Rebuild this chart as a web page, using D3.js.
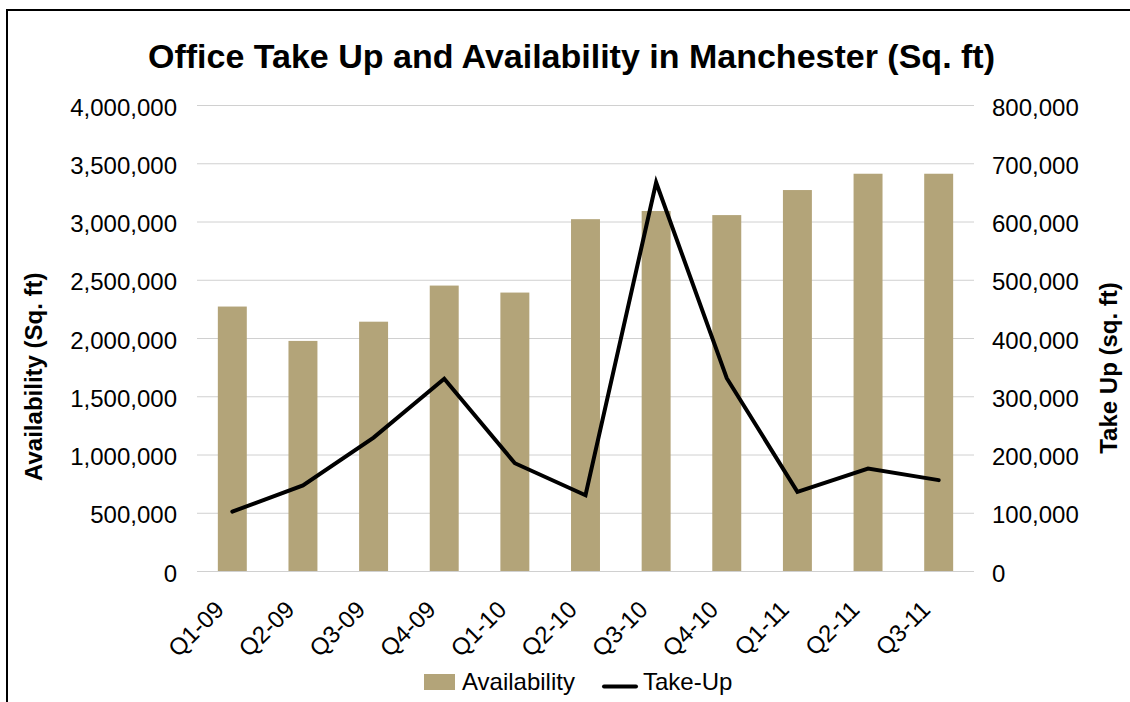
<!DOCTYPE html>
<html>
<head>
<meta charset="utf-8">
<script src="https://cdn.jsdelivr.net/npm/d3@7"></script>
<style>
  html, body { margin: 0; padding: 0; background: #fff; }
  svg { display: block; font-family: "Liberation Sans", Arial, sans-serif; }
</style>
</head>
<body>
<svg id="chart" width="1130" height="702"></svg>
<script>
const categories = ["Q1-09","Q2-09","Q3-09","Q4-09","Q1-10","Q2-10","Q3-10","Q4-10","Q1-11","Q2-11","Q3-11"];
const availability = [2270000, 1975000, 2140000, 2450000, 2390000, 3020000, 3090000, 3055000, 3270000, 3410000, 3410000];
const takeUp = [102000, 147000, 229000, 330000, 185000, 130000, 667000, 331000, 136000, 176000, 156000];
const leftTicks = [0, 500000, 1000000, 1500000, 2000000, 2500000, 3000000, 3500000, 4000000];
const rightTicks = [0, 100000, 200000, 300000, 400000, 500000, 600000, 700000, 800000];

const title = "Office Take Up and Availability in Manchester (Sq. ft)";
const leftTitle = "Availability (Sq. ft)";
const rightTitle = "Take Up (sq. ft)";

const svg = d3.select("#chart");
const plot = { left: 197, right: 974, top: 105, bottom: 571 };
const barColor = "#b3a479";
const fmt = d3.format(",");

// frame
svg.append("rect").attr("x", 7).attr("y", 10).attr("width", 1300).attr("height", 900)
  .attr("fill", "none").attr("stroke", "#000").attr("stroke-width", 2);

const x = d3.scaleBand().domain(categories).range([plot.left, plot.right])
  .paddingInner(0.59).paddingOuter(0.295);
const yL = d3.scaleLinear().domain([0, 4000000]).range([plot.bottom, plot.top]);
const yR = d3.scaleLinear().domain([0, 800000]).range([plot.bottom, plot.top]);

// gridlines
svg.append("g").selectAll("line").data(leftTicks).join("line")
  .attr("x1", plot.left).attr("x2", plot.right)
  .attr("y1", d => yL(d) + 0.5).attr("y2", d => yL(d) + 0.5)
  .attr("stroke", "#d0d0d0").attr("stroke-width", 1);

// bars
svg.append("g").selectAll("rect").data(categories).join("rect")
  .attr("x", d => x(d)).attr("width", x.bandwidth())
  .attr("y", (d, i) => yL(availability[i]))
  .attr("height", (d, i) => yL(0) - yL(availability[i]))
  .attr("fill", barColor);

// line
const line = d3.line()
  .x((d, i) => x(categories[i]) + x.bandwidth() / 2)
  .y(d => yR(d));
svg.append("path").datum(takeUp).attr("d", line)
  .attr("fill", "none").attr("stroke", "#000").attr("stroke-width", 4)
  .attr("stroke-linejoin", "miter").attr("stroke-linecap", "round");

// left axis labels
const lAxis = d3.axisLeft(yL).tickValues(leftTicks).tickFormat(fmt).tickSize(0).tickPadding(20);
const gl = svg.append("g").attr("transform", `translate(${plot.left},0)`).call(lAxis);
gl.select(".domain").remove();
gl.selectAll("text").attr("font-size", 24).attr("fill", "#000")
  .attr("font-family", "'Liberation Sans', Arial, sans-serif").attr("dy", "0.42em");

// right axis labels
const rAxis = d3.axisRight(yR).tickValues(rightTicks).tickFormat(fmt).tickSize(0).tickPadding(18);
const gr = svg.append("g").attr("transform", `translate(${plot.right},0)`).call(rAxis);
gr.select(".domain").remove();
gr.selectAll("text").attr("font-size", 24).attr("fill", "#000")
  .attr("font-family", "'Liberation Sans', Arial, sans-serif").attr("dy", "0.42em");

// x labels
svg.append("g").selectAll("text").data(categories).join("text")
  .attr("transform", d => `translate(${x(d) + x.bandwidth() / 2 - 7},611) rotate(-45)`)
  .attr("text-anchor", "end").attr("font-size", 24).attr("fill", "#000")
  .text(d => d);

// title
svg.append("text").attr("x", 571.5).attr("y", 68).attr("text-anchor", "middle")
  .attr("font-size", 34).attr("font-weight", "bold").attr("fill", "#000").text(title);

// axis titles
svg.append("text").attr("transform", "translate(42,376.7) rotate(-90)")
  .attr("text-anchor", "middle").attr("font-size", 24).attr("font-weight", "bold")
  .attr("fill", "#000").text(leftTitle);
svg.append("text").attr("transform", "translate(1117,368) rotate(-90)")
  .attr("text-anchor", "middle").attr("font-size", 24).attr("font-weight", "bold")
  .attr("fill", "#000").text(rightTitle);

// legend
const lg = svg.append("g");
lg.append("rect").attr("x", 424).attr("y", 674).attr("width", 31).attr("height", 16).attr("fill", barColor);
lg.append("text").attr("x", 462).attr("y", 690).attr("font-size", 24).attr("fill", "#000").text("Availability");
lg.append("line").attr("x1", 604).attr("x2", 636).attr("y1", 686.5).attr("y2", 686.5)
  .attr("stroke", "#000").attr("stroke-width", 4).attr("stroke-linecap", "round");
lg.append("text").attr("x", 643).attr("y", 690).attr("font-size", 24).attr("fill", "#000").text("Take-Up");
</script>
</body>
</html>
